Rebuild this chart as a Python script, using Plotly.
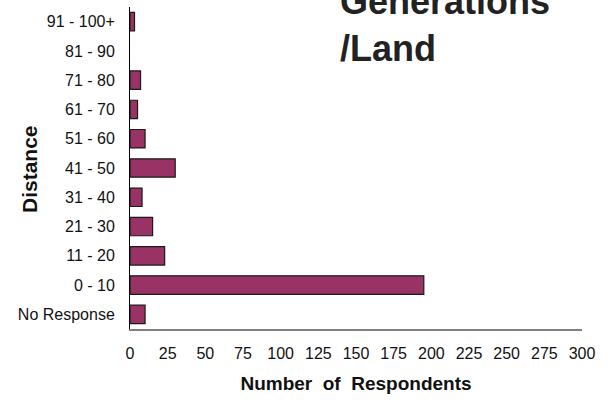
import plotly.graph_objects as go

# Distance bands (bottom to top) and number of respondents in each
categories = ["No Response", "0 - 10", "11 - 20", "21 - 30", "31 - 40", "41 - 50",
              "51 - 60", "61 - 70", "71 - 80", "81 - 90", "91 - 100+"]
respondents = [10, 195, 23, 15, 8, 30, 10, 5, 7, 0, 3]
x_ticks = [0, 25, 50, 75, 100, 125, 150, 175, 200, 225, 250, 275, 300]

FONT = "Liberation Sans, Arial, sans-serif"

# no outline on empty bands so they stay invisible
outline = [1.2 if v > 0 else 0 for v in respondents]

fig = go.Figure(go.Bar(
    y=categories,
    x=respondents,
    orientation="h",
    marker=dict(color="#993366", line=dict(color="#1a1a1a", width=outline)),
    hoverinfo="x+y",
))

W, H = 613, 410
l, r, t, b = 130, 31, 7, 81
pw, ph = W - l - r, H - t - b

fig.update_layout(
    width=W, height=H,
    margin=dict(l=l, r=r, t=t, b=b),
    paper_bgcolor="white", plot_bgcolor="white",
    bargap=0.37,
    showlegend=False,
    font=dict(family=FONT, color="#111111"),
    xaxis=dict(
        range=[0, 300], tickvals=x_ticks, ticktext=[str(v) for v in x_ticks],
        showgrid=False, zeroline=False,
        showline=True, linecolor="#808080", linewidth=1.5,
        ticks="", ticklabelstandoff=9,
        tickfont=dict(size=16, family=FONT, color="#111111"),
        title=dict(text="<b>Number  of  Respondents</b>", standoff=16,
                   font=dict(size=19, family=FONT, color="#111111")),
    ),
    yaxis=dict(
        categoryorder="array", categoryarray=categories,
        range=[-0.5, 10.5],
        showgrid=False, zeroline=False,
        showline=True, linecolor="#000000", linewidth=1,
        ticks="", ticklabelstandoff=11,
        tickfont=dict(size=16, family=FONT, color="#111111"),
    ),
    annotations=[
        dict(text="<b>Distance</b>", textangle=-90,
             x=(30 - l) / pw, y=(H - 169 - b) / ph,
             xref="paper", yref="paper", xanchor="center", yanchor="middle",
             showarrow=False,
             font=dict(size=21, family=FONT, color="#111111")),
        dict(text="<b>Generations<br>/Land</b>",
             x=(338 - l) / pw, y=(H - 71 - b) / ph,
             xref="paper", yref="paper", xanchor="left", yanchor="bottom",
             align="left", showarrow=False,
             font=dict(size=36, family=FONT, color="#222222")),
    ],
)

fig.write_html("out.html")
